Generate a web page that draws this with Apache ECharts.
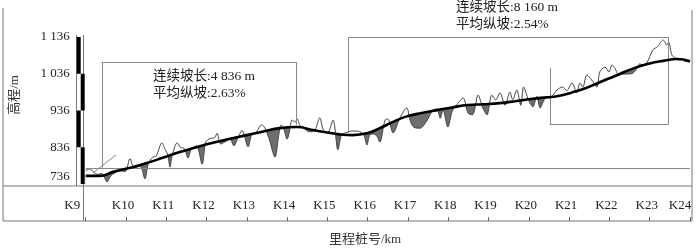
<!DOCTYPE html>
<html>
<head>
<meta charset="utf-8">
<script src="https://cdn.jsdelivr.net/npm/echarts@6/dist/echarts.min.js"></script>
<style>html,body{margin:0;padding:0;background:#fff}#c{width:700px;height:249px}</style>
</head>
<body>
<div id="c"></div>
<script>
// ---- data ----
const kmLabels = ['K9','K10','K11','K12','K13','K14','K15','K16','K17','K18','K19','K20','K21','K22','K23','K24'];
const yTicks = [736, 836, 936, 1036, 1136];

const designKm   = [9.00,9.35,9.68,10.10,10.52,10.93,11.34,11.75,12.16,12.58,13.00,13.41,13.82,14.24,14.64,15.00,15.30,15.63,15.98,16.30,16.63,16.97,17.34,17.72,18.12,18.49,18.86,19.28,19.70,20.10,20.45,20.70,21.07,21.44,21.76,22.14,22.58,23.00,23.33,23.67,24.00];
const designElev = [758,758,769,780,793,808,823,836,848,859,869,879,888,891,883,876,871,869,874,888,905,920,929,937,945,951,953,956,962,968,972,975,985,998,1013,1030,1050,1064,1071,1076,1070];

const groundKm = [9.00,9.10,9.20,9.30,9.40,9.53,9.62,9.72,9.85,9.98,10.10,10.20,10.35,10.47,10.55,10.65,10.75,10.89,10.97,11.04,11.09,11.15,11.27,11.35,11.45,11.54,11.62,11.75,11.89,11.98,12.09,12.20,12.26,12.35,12.45,12.58,12.68,12.78,12.88,13.03,13.12,13.22,13.37,13.45,13.55,13.70,13.78,13.85,13.92,14.00,14.06,14.12,14.20,14.25,14.32,14.40,14.50,14.60,14.70,14.81,14.90,15.00,15.14,15.26,15.35,15.45,15.60,15.75,15.90,15.98,16.05,16.15,16.23,16.30,16.43,16.50,16.63,16.80,16.97,17.05,17.15,17.30,17.45,17.62,17.72,17.80,17.87,17.99,18.10,18.24,18.37,18.49,18.60,18.74,18.86,18.96,19.08,19.18,19.28,19.41,19.53,19.60,19.70,19.80,19.87,19.99,20.10,20.20,20.28,20.40,20.55,20.70,20.84,20.94,21.07,21.19,21.27,21.34,21.44,21.56,21.69,21.76,21.89,21.99,22.06,22.14,22.21,22.30,22.55,22.68,22.75,22.83,22.93,23.08,23.20,23.33,23.38,23.42,23.47,23.55,23.62,23.70,23.80,23.87,24.00];
const groundElev = [772,777,768,762,765,742,758,766,772,770,805,780,784,750,790,808,812,848,830,815,782,815,848,836,832,807,830,840,790,850,860,862,874,845,850,858,840,862,882,837,870,875,897,888,860,809,860,897,885,858,880,910,905,913,895,890,880,878,885,916,882,875,910,829,870,875,880,880,870,842,869,872,866,850,910,913,875,916,943,910,890,888,905,937,940,915,937,891,935,956,970,929,924,978,942,924,978,965,984,950,986,965,992,950,1000,965,946,975,943,968,972,992,1000,990,1011,984,1011,1000,1033,1019,1000,1041,1054,1041,1060,1050,1036,1035,1036,1050,1063,1060,1066,1101,1110,1128,1122,1114,1122,1087,1080,1074,1076,1070,1068];

// slope sections: length (m), average grade (%), start / end (km)
const sectionLength = [4836, 8160, 3100, 14160];
const sectionGrade  = [2.63, 2.54, 3.29, 2.20];
const sectionStart  = [9.40, 15.51, 20.52, 9.40];
const sectionEnd    = [14.22, 23.47, 23.47, 23.47];

// ---- layout (not data) ----
const FONT = '"Liberation Serif","Noto Sans CJK SC",serif';
const baseElev = 780;          // thin reference line
const box1 = {top: 1068, leftBottom: baseElev, rightBottom: 897};
const box2 = {top: 1136, leftBottom: 875, rightBottom: 899};
const box3 = {top: 1052, bottom: 899};
const textPos = [[153, 76], [456, 7], [557, 100], [420, 142]];
const textPos2 = [[153, 93], [456, 24], [560, 117], [430, 158]];

const fmt = n => String(n).replace(/\B(?=(\d{3})+(?!\d))/g, ' ');
const pts = (xs, ys) => xs.map((x, i) => [x, ys[i]]);
const design = pts(designKm, designElev);
const ground = pts(groundKm, groundElev);

const seg = (a, b) => [{coord: a}, {coord: b}];
const s = sectionStart, e = sectionEnd;
const boxLines = [
  seg([s[0], box1.top], [e[0], box1.top]),
  seg([s[0], box1.top], [s[0], box1.leftBottom]),
  seg([e[0], box1.top], [e[0], box1.rightBottom]),
  seg([s[1], box2.top], [e[1], box2.top]),
  seg([s[1], box2.top], [s[1], box2.leftBottom]),
  seg([e[1], box2.top], [e[1], box2.rightBottom]),
  seg([s[2], box3.top], [s[2], box3.bottom]),
  seg([s[2], box3.bottom], [e[2], box3.bottom]),
  seg([9, baseElev], [24, baseElev]),
  seg([9.18, 766], [9.75, 815])
];

// scale bar segments on the elevation axis: [x, from, to, column]
const barSegs = [];
for (let i = 0; i < yTicks.length - 1; i++) {
  barSegs.push([9, yTicks[i], yTicks[i + 1], (yTicks.length - 2 - i) % 2 === 0 ? 0 : 1]);
}

const texts = [];
for (let i = 0; i < sectionLength.length; i++) {
  texts.push({type: 'text', silent: true, style: {text: '连续坡长:' + fmt(sectionLength[i]) + ' m', x: textPos[i][0], y: textPos[i][1], font: '13.5px ' + FONT, fill: '#222', textAlign: 'left', textVerticalAlign: 'middle'}});
  texts.push({type: 'text', silent: true, style: {text: '平均纵坡:' + sectionGrade[i].toFixed(2) + '%', x: textPos2[i][0], y: textPos2[i][1], font: '13.5px ' + FONT, fill: '#222', textAlign: 'left', textVerticalAlign: 'middle'}});
}
const line = (x1, y1, x2, y2) => ({type: 'line', silent: true, shape: {x1, y1, x2, y2}, style: {stroke: '#777', lineWidth: 1}});

const chart = echarts.init(document.getElementById('c'), null, {renderer: 'canvas'});
chart.setOption({
  animation: false,
  backgroundColor: '#fff',
  grid: {left: 85.7, right: 10, top: 37, bottom: 65},
  xAxis: {
    type: 'value', min: 9, max: 24, interval: 1, offset: 37,
    axisLine: {show: false}, splitLine: {show: false},
    axisTick: {inside: true, length: 4, lineStyle: {color: '#666'}},
    axisLabel: {
      inside: true, margin: 9, color: '#222', fontSize: 13, fontFamily: FONT,
      formatter: v => {
        const t = kmLabels[Math.round(v) - 9];
        if (v === 9) return '{a|' + t + '}';
        if (v === 24) return '{b|' + t + '}';
        return '{n|' + t + '}';
      },
      rich: {
        n: {padding: [0, 6, 0, 0], fontSize: 13, fontFamily: FONT, color: '#222'},
        a: {padding: [0, 27, 0, 0], fontSize: 13, fontFamily: FONT, color: '#222'},
        b: {padding: [0, 20, 0, 0], fontSize: 13, fontFamily: FONT, color: '#222'}
      }
    }
  },
  yAxis: {
    type: 'value', min: yTicks[0], max: yTicks[yTicks.length - 1], interval: 100,
    axisLine: {show: false}, axisTick: {show: false}, splitLine: {show: false},
    axisLabel: {
      margin: 16, color: '#222', fontSize: 13, fontFamily: FONT,
      formatter: v => v === yTicks[0] ? '{lo|' + fmt(v) + '}' : fmt(v),
      rich: {lo: {padding: [0, 0, 14, 0], fontSize: 13, fontFamily: FONT, color: '#222'}}
    }
  },
  series: [
    {type: 'line', data: design, smooth: true, symbol: 'none', silent: true, z: 1,
     lineStyle: {width: 0}, areaStyle: {color: '#6e6e6e', opacity: 1, origin: 'start'}},
    {type: 'line', data: ground, smooth: 0.3, symbol: 'none', silent: true, z: 2,
     lineStyle: {width: 0}, areaStyle: {color: '#fff', opacity: 1, origin: 'start'}},
    {type: 'line', data: ground, symbol: 'none', silent: true, z: 3, lineStyle: {opacity: 0},
     markLine: {symbol: 'none', silent: true, animation: false, label: {show: false},
       lineStyle: {color: '#888', width: 1, type: 'solid'}, emphasis: {disabled: true}, data: boxLines}},
    {type: 'line', data: ground, smooth: 0.3, symbol: 'none', silent: true, z: 4,
     lineStyle: {color: '#444', width: 1}},
    {type: 'line', data: design, smooth: true, symbol: 'none', silent: true, z: 5,
     lineStyle: {color: '#000', width: 2.6}},
    {type: 'custom', data: barSegs, clip: false, silent: true, z: 6,
     encode: {x: 0, y: [1, 2]},
     renderItem: (params, api) => {
       const yA = api.coord([9, api.value(1)])[1];
       const yB = api.coord([9, api.value(2)])[1];
       const left = params.coordSys.x - 9 + api.value(3) * 4;
       return {type: 'rect', shape: {x: left, y: yB, width: 4, height: yA - yB}, style: {fill: '#000'}};
     }}
  ],
  graphic: [
    line(3, 8, 3, 221), line(692, 10, 692, 221), line(3, 186, 692, 186), line(3, 221, 692, 221),
    line(83.5, 35, 83.5, 221), line(76.5, 35, 76.5, 186),
    {type: 'text', silent: true, x: 15, y: 95, rotation: Math.PI / 2,
     style: {text: '高程/m', x: 0, y: 0, font: '13px ' + FONT, fill: '#333', textAlign: 'center', textVerticalAlign: 'middle'}},
    {type: 'text', silent: true, style: {text: '里程桩号/km', x: 365, y: 240, font: '13px ' + FONT, fill: '#333', textAlign: 'center', textVerticalAlign: 'middle'}}
  ].concat(texts)
});
</script>
</body>
</html>
